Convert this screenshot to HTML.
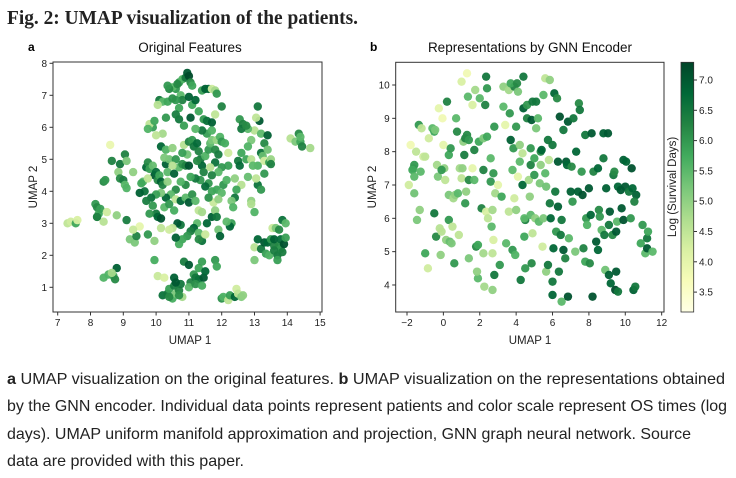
<!DOCTYPE html>
<html><head><meta charset="utf-8"><style>
html,body{margin:0;padding:0;background:#fff;}
svg{display:block;}
.tk{font-family:"Liberation Sans",sans-serif;font-size:10px;fill:#222;}
.lab{font-family:"Liberation Sans",sans-serif;font-size:11.5px;fill:#222;}
.ttl{font-family:"Liberation Sans",sans-serif;font-size:13.5px;fill:#111;}
.cap{font-family:"Liberation Sans",sans-serif;font-size:16px;fill:#222;}
</style></head><body>
<svg id="fig" width="736" height="478" viewBox="0 0 736 478" xmlns="http://www.w3.org/2000/svg">
<defs><linearGradient id="ylgn" x1="0" y1="1" x2="0" y2="0">
<stop offset="0" stop-color="#ffffe5"/><stop offset="0.125" stop-color="#f7fcb9"/><stop offset="0.25" stop-color="#d9f0a3"/><stop offset="0.375" stop-color="#addd8e"/><stop offset="0.5" stop-color="#78c679"/><stop offset="0.625" stop-color="#41ab5d"/><stop offset="0.75" stop-color="#238443"/><stop offset="0.875" stop-color="#006837"/><stop offset="1" stop-color="#004529"/></linearGradient></defs>
<text x="7" y="24" textLength="351" lengthAdjust="spacingAndGlyphs" style="font-family:'Liberation Serif',serif;font-weight:bold;font-size:20px;fill:#222">Fig. 2: UMAP visualization of the patients.</text>
<text x="28" y="51" style="font-family:'Liberation Sans',sans-serif;font-weight:bold;font-size:12px">a</text>
<text x="370" y="51" style="font-family:'Liberation Sans',sans-serif;font-weight:bold;font-size:12px">b</text>
<text class="ttl" x="190" y="52" text-anchor="middle">Original Features</text>
<text class="ttl" x="530" y="52" text-anchor="middle">Representations by GNN Encoder</text>
<g id="pa"></g>
<g id="pb"></g>
<rect x="53" y="62" width="269" height="250" fill="none" stroke="#333" stroke-width="1"/>
<rect x="395.7" y="62.3" width="268.3" height="249.7" fill="none" stroke="#333" stroke-width="1"/>
<text class="lab" x="190" y="344" text-anchor="middle">UMAP 1</text>
<text class="lab" x="37" y="187" text-anchor="middle" transform="rotate(-90 37 187)">UMAP 2</text>
<text class="lab" x="530" y="344" text-anchor="middle">UMAP 1</text>
<text class="lab" x="376" y="187" text-anchor="middle" transform="rotate(-90 376 187)">UMAP 2</text>
<rect x="681" y="62.3" width="12.7" height="249.7" fill="url(#ylgn)" stroke="#333" stroke-width="0.8"/>
<text class="lab" x="676" y="187" text-anchor="middle" transform="rotate(-90 676 187)">Log (Survival Days)</text>
<g id="cb"></g>
<text class="cap" x="7" y="384" textLength="718" lengthAdjust="spacingAndGlyphs"><tspan font-weight="bold">a</tspan> UMAP visualization on the original features. <tspan font-weight="bold">b</tspan> UMAP visualization on the representations obtained</text>
<text class="cap" x="7" y="411" textLength="720" lengthAdjust="spacingAndGlyphs">by the GNN encoder. Individual data points represent patients and color scale represent OS times (log</text>
<text class="cap" x="7" y="439" textLength="684" lengthAdjust="spacingAndGlyphs">days). UMAP uniform manifold approximation and projection, GNN graph neural network. Source</text>
<text class="cap" x="7" y="466" textLength="237" lengthAdjust="spacingAndGlyphs">data are provided with this paper.</text>
</svg>
<script>
const aX=[7.3,7.4,7.55,7.6,8.15,8.2,8.2,8.25,8.3,8.4,8.5,8.2,8.8,8.4,8.45,8.6,8.65,8.9,8.85,8.9,9.0,9.05,9.1,9.05,9.1,9.3,9.1,9.2,9.35,9.4,9.5,9.3,8.4,8.55,8.7,8.75,8.8,8.65,9.95,10.05,10.25,10.2,10.35,10.4,10.5,10.55,10.6,10.55,10.7,10.75,10.8,10.6,10.4,10.7,10.85,11.0,11.05,11.15,11.2,11.3,11.3,11.4,11.45,11.5,11.0,11.2,11.4,11.8,11.85,12.0,12.05,12.2,12.25,12.4,12.45,12.5,12.6,12.65,13.0,13.0,13.1,13.2,13.3,13.35,13.4,13.45,13.5,13.55,13.6,13.6,13.65,13.7,13.7,13.75,13.8,13.8,13.85,13.9,13.95,13.95,13.75,13.6,13.85,14.1,14.25,14.35,14.4,14.45,14.4,14.7,13.0,13.1,13.15,13.05,13.2,13.3,13.2,13.25,13.3,13.4,13.45,13.4,13.5,13.5,13.1,13.1,13.2,13.05,13.3,13.0,12.9,12.9,12.55,12.65,12.8,12.6,12.75,12.9,12.8,12.6,12.5,12.55,12.75,12.9,12.95,12.8,12.6,12.4,12.45,12.4,12.3,12.3,12.25,12.15,12.35,10.7,10.8,10.9,10.95,11.0,11.05,11.1,10.6,10.5,10.4,10.35,10.65,10.75,10.8,11.0,11.1,11.2,10.1,10.2,10.05,10.35,10.6,10.5,11.4,11.5,11.6,11.7,11.8,11.85,11.8,12.0,11.3,11.45,11.55,11.7,11.05,10.7,10.7,10.85,10.3,10.2,10.0,9.9,9.8,9.75,9.95,10.6,9.7,9.75,9.8,9.9,9.95,10.0,10.05,10.1,10.15,10.2,10.3,10.35,10.4,10.25,10.15,10.3,10.5,10.6,10.55,10.7,10.8,10.9,10.95,10.85,11.0,11.1,11.15,11.25,11.3,11.35,11.4,11.45,11.5,11.6,11.65,11.7,11.8,11.85,11.95,12.0,12.1,12.2,12.2,12.0,11.9,11.8,11.7,11.6,11.5,11.35,11.2,11.0,11.05,10.9,10.75,10.6,10.45,10.3,10.15,10.0,9.85,9.7,9.65,9.5,9.6,9.75,9.9,10.0,10.05,10.15,10.25,10.4,10.55,10.6,10.75,10.9,11.0,11.1,11.2,11.3,11.4,11.25,11.15,11.05,10.95,10.8,10.7,10.6,10.75,10.65,10.5,10.4,11.3,11.4,11.3,11.5,11.55,11.7,11.75,11.8,11.85,11.9,11.95,11.7,11.6,11.85,12.0,11.9,12.05,12.15,9.55,9.8,9.75,9.95,10.15,10.35,10.5,11.25,11.55,11.4,11.2,11.7,11.9,10.8,11.65];
const aY=[3.0,3.05,3.0,3.1,3.6,3.5,3.2,3.3,3.45,3.05,3.35,3.2,3.25,4.3,4.35,5.45,4.95,4.85,4.6,4.4,4.35,5.15,4.95,4.2,4.1,4.6,3.1,2.5,2.4,2.6,2.9,2.8,1.3,1.4,1.35,1.25,1.6,1.45,1.85,1.35,1.3,0.75,0.8,0.95,0.65,1.05,0.8,1.3,0.9,1.1,0.7,1.15,0.7,0.75,1.8,1.7,1.15,1.4,1.3,1.25,1.6,1.8,1.3,1.5,1.0,1.1,1.05,1.85,1.65,0.65,0.7,0.6,0.75,0.7,0.95,0.8,0.7,0.75,2.25,1.85,2.5,2.2,2.4,2.05,2.4,2.0,2.5,2.85,2.3,2.5,2.85,2.0,1.85,2.3,2.5,2.2,3.1,2.35,2.55,3.0,2.8,2.15,2.1,5.65,5.55,5.8,5.55,5.4,5.7,5.35,5.9,6.65,6.2,6.3,5.8,5.5,5.2,5.1,4.95,5.75,4.9,5.3,5.0,4.85,4.8,4.2,4.05,4.4,4.55,3.35,3.7,3.6,6.25,6.1,5.95,5.95,6.05,5.6,5.4,5.2,4.95,4.8,5.0,5.0,4.8,4.45,4.2,4.4,4.05,3.8,3.7,3.0,2.9,3.05,3.5,7.4,7.5,7.55,7.7,7.6,7.4,7.3,7.2,7.25,7.2,7.3,7.35,7.0,6.85,6.95,6.7,6.85,6.85,6.8,6.7,6.8,6.85,6.9,7.15,7.2,7.2,7.2,7.15,7.05,6.4,6.65,6.5,6.25,6.2,6.15,6.3,6.6,6.25,6.05,6.3,5.8,5.75,6.0,6.1,5.95,6.2,6.4,4.75,4.9,4.7,4.8,4.5,4.6,4.35,4.5,4.3,4.2,4.85,4.6,5.0,5.05,5.4,5.3,5.35,5.0,4.55,4.75,4.85,4.8,5.15,5.45,5.55,5.6,5.4,5.5,5.25,5.0,4.8,4.6,5.1,5.3,5.5,5.6,5.3,5.6,5.7,5.55,5.5,5.2,4.8,4.75,4.6,4.9,4.5,4.25,4.15,4.35,4.4,4.8,4.45,4.2,4.3,4.05,3.9,3.8,3.95,3.9,3.8,3.7,4.0,3.95,4.3,4.4,3.55,3.3,3.2,3.15,3.5,3.6,3.4,3.75,3.7,3.8,3.65,3.9,3.7,3.4,3.35,3.0,2.85,2.75,2.6,2.5,2.35,2.55,2.95,3.0,2.85,2.8,2.7,2.45,2.5,2.65,3.0,3.2,3.65,3.4,3.2,2.8,2.6,4.0,3.8,4.05,3.95,3.75,4.2,4.35,4.25,3.3,2.65,2.45,2.85,4.3,4.8,4.95,5.8,5.9,5.95,5.9,5.15,5.2,4.75];
const aV=[4.5,4.3,5.8,4.2,6.0,6.2,6.5,5.8,5.9,4.6,4.3,6.3,5.0,6.2,6.0,3.9,6.3,6.5,5.0,6.2,6.4,6.3,5.2,5.5,5.6,5.0,6.4,5.2,5.2,6.3,4.0,4.4,5.6,5.6,5.8,6.2,6.9,4.8,5.7,4.4,4.2,6.6,6.5,5.9,5.7,6.4,5.2,6.9,6.3,6.5,4.8,7.0,6.2,6.1,6.4,7.0,6.3,6.0,6.5,6.6,5.8,5.9,7.0,6.8,5.5,6.1,5.7,6.0,5.8,6.1,5.6,4.5,5.9,6.8,4.3,4.5,5.1,5.0,4.6,5.2,6.8,6.5,7.0,5.9,6.8,5.6,6.0,4.4,6.3,6.9,5.2,6.5,5.9,6.2,6.7,6.0,6.6,7.1,5.9,5.5,6.2,6.4,6.4,4.6,5.2,6.2,5.8,6.3,5.5,4.8,4.6,6.5,7.0,4.5,5.5,6.2,6.6,5.4,4.3,6.9,5.9,5.3,4.9,6.3,5.6,6.6,6.0,4.5,6.0,5.6,5.0,4.7,6.0,6.3,5.5,6.5,6.2,5.2,5.6,5.8,6.5,6.7,5.8,4.6,5.5,5.4,4.6,5.0,5.8,6.5,5.2,5.9,6.8,5.5,5.6,6.0,5.6,6.5,7.0,7.2,6.2,5.8,6.0,5.5,6.2,6.0,6.2,5.5,6.3,6.9,5.8,6.8,6.5,5.5,4.6,5.8,6.0,6.1,5.9,6.9,6.8,4.3,4.8,6.0,4.5,6.3,5.8,6.0,6.6,6.9,7.0,5.8,6.5,5.9,6.0,4.8,4.5,5.9,4.5,5.6,5.8,6.4,6.8,6.2,5.9,5.4,7.0,6.7,6.2,5.8,6.9,6.3,6.9,5.5,5.3,5.2,6.8,5.6,5.0,6.0,6.9,5.5,6.1,6.3,5.3,4.6,6.3,6.0,6.5,6.7,6.3,6.5,6.8,6.3,5.6,6.0,5.5,5.2,6.2,4.9,5.6,6.0,5.7,4.3,5.9,6.0,5.5,6.6,6.3,6.0,6.7,6.0,6.5,7.1,5.8,6.2,5.6,6.2,5.5,6.8,5.2,5.9,6.6,6.4,6.6,6.9,5.5,4.5,6.0,6.5,6.8,7.1,5.5,6.0,5.7,4.5,6.8,5.5,7.0,6.1,5.5,4.5,4.8,5.5,6.8,6.4,6.0,5.8,5.7,6.9,6.5,7.0,4.5,4.3,5.5,6.6,6.2,4.4,6.8,6.9,4.4,5.0,6.5,5.3,6.9,5.8,6.1,5.8,5.5,5.0,6.0,5.6,5.8,6.0,6.0,5.0,4.5,5.0,4.6,6.2,5.9,6.5,5.5,5.6,6.4,5.9,4.6];
const bX=[-1.9,-1.8,-1.65,-1.6,-1.7,-1.6,-1.6,-1.5,-1.35,-1.2,-1.1,-1.0,-1.45,-1.3,-1.25,-1.0,-0.85,-0.8,-0.6,-0.5,-0.45,-0.5,-0.4,-0.35,-0.3,-0.25,-0.2,-0.1,-0.15,-0.05,0.0,0.05,0.1,-0.1,0.15,0.2,0.3,0.3,0.3,0.4,0.35,0.45,0.5,0.55,0.6,0.65,0.7,0.75,0.8,0.85,0.9,1.0,1.05,1.1,1.2,1.15,1.2,1.25,1.3,1.4,1.4,1.4,1.3,1.35,1.0,1.6,1.6,1.7,1.7,1.75,1.8,1.9,1.9,1.85,1.95,2.0,2.1,2.2,2.2,2.2,2.25,2.3,2.35,2.4,2.35,2.4,2.45,2.6,2.6,2.65,2.7,2.75,2.8,2.75,2.7,2.7,2.8,2.85,3.0,3.1,3.2,3.3,3.3,3.4,3.45,3.6,3.6,3.65,3.7,3.8,3.8,3.85,3.9,3.9,3.95,3.7,4.0,4.0,4.05,4.1,4.1,4.2,4.2,4.25,4.35,4.35,4.4,4.4,4.45,4.5,4.5,4.45,4.6,4.6,4.7,4.75,4.8,4.8,4.85,4.8,4.85,4.9,4.9,5.0,5.0,5.05,5.1,5.1,5.2,5.25,5.3,5.35,5.35,5.4,5.45,5.5,5.5,5.6,5.6,5.65,5.65,5.75,5.75,5.8,5.85,5.85,5.9,6.0,6.0,6.05,6.1,6.0,6.15,6.2,6.25,6.3,6.3,6.4,6.35,6.45,6.5,6.5,6.6,6.6,6.7,6.75,6.8,6.85,6.85,6.9,7.0,7.05,7.1,7.15,7.25,7.3,7.4,7.45,7.5,7.6,7.65,7.7,7.8,7.8,7.85,7.9,8.0,8.05,8.1,8.15,8.2,8.25,8.4,8.5,8.5,8.55,8.6,8.7,8.8,8.8,8.85,8.9,8.95,9.05,9.1,9.1,9.15,9.2,9.3,9.35,9.4,9.45,9.5,9.5,9.55,9.6,9.6,9.75,9.8,9.9,9.9,10.05,10.0,10.2,10.35,10.4,10.45,10.55,10.6,10.85,10.95,11.1,11.2,11.25,11.2,11.5,10.5,10.3];
const bY=[7.0,8.2,7.5,7.6,7.45,6.75,7.25,8.0,8.8,8.7,7.85,7.85,5.95,6.25,7.4,4.95,4.5,8.4,8.7,8.6,8.65,6.15,5.45,7.6,7.25,9.3,5.7,5.6,4.9,9.0,8.2,7.5,7.15,7.45,5.35,9.5,5.95,7.9,6.7,8.1,5.3,5.25,5.75,6.6,4.65,6.7,9.0,8.6,6.75,5.5,7.5,7.2,7.5,8.3,8.4,7.9,6.45,6.8,8.5,8.35,4.8,7.15,10.35,9.65,10.1,9.4,7.5,8.05,7.15,9.85,5.15,5.2,4.2,4.4,8.3,9.6,6.3,4.95,7.45,8.4,3.95,9.4,10.25,8.45,6.2,9.9,6.0,7.1,7.8,5.75,6.25,7.35,8.75,5.35,4.95,3.85,4.3,6.75,7.0,4.6,6.65,9.35,9.95,8.8,5.25,6.2,9.85,9.15,8.35,7.45,5.05,8.1,9.95,6.6,4.9,10.05,8.75,6.25,10.05,7.25,9.8,8.2,7.7,4.15,7.95,7.0,10.25,9.3,5.45,5.95,4.5,6.0,9.0,9.4,7.15,6.65,6.1,7.6,8.95,8.1,4.65,9.5,5.55,7.8,7.3,6.0,9.5,8.7,9.0,5.9,7.05,8.0,7.6,8.05,5.15,9.7,6.0,10.2,7.35,6.95,4.4,8.35,4.6,7.75,10.15,6.45,6.0,8.2,4.1,5.1,9.75,3.7,6.8,5.6,9.6,7.7,6.35,9.05,4.4,5.5,5.95,3.5,8.65,5.05,4.8,7.7,7.6,8.9,3.65,5.4,6.8,7.55,6.5,9.0,5.0,8.0,6.8,9.45,9.25,7.4,6.7,5.1,4.7,8.5,6.0,5.8,6.9,4.65,6.1,8.55,3.65,7.4,5.3,7.5,5.05,6.25,6.05,5.65,8.55,7.8,5.5,4.45,6.9,8.55,5.8,4.3,6.2,4.05,5.5,7.3,7.4,3.85,5.6,4.4,5.9,3.8,6.95,6.85,6.3,5.95,7.75,7.7,6.95,6.8,7.5,6.9,3.85,3.95,6.7,5.25,5.8,4.95,5.4,5.6,5.1,5.0,6.5,6.0];
const bV=[4.3,3.8,5.6,6.0,5.8,5.3,5.5,4.5,6.0,4.5,4.3,4.5,5.2,5.0,5.5,5.8,4.3,4.3,5.5,5.8,5.2,6.5,6.2,4.8,5.2,4.0,4.6,4.6,5.0,3.8,4.0,5.0,4.5,6.0,5.0,6.3,6.0,5.8,5.2,6.0,5.4,5.2,4.5,4.8,6.0,5.0,5.5,6.2,5.5,4.5,4.8,4.5,5.0,5.0,6.3,6.4,6.0,5.0,6.2,6.0,5.2,6.2,3.8,5.5,4.2,4.2,4.0,6.3,5.5,4.8,6.2,5.8,5.5,5.0,5.8,5.5,6.3,4.8,6.3,5.2,4.8,6.3,6.5,5.8,4.2,6.0,4.5,6.0,5.5,5.5,4.8,6.0,6.0,4.2,4.5,5.0,6.5,4.8,4.0,6.0,5.8,5.5,5.0,4.0,5.5,4.5,4.8,6.0,6.9,5.5,6.0,6.0,6.3,4.3,5.6,5.8,6.0,5.0,6.2,4.0,5.2,5.0,5.5,6.5,4.5,6.8,6.5,6.9,5.8,6.3,6.0,5.5,6.3,6.0,4.8,5.0,5.5,6.3,7.0,6.0,6.2,6.5,4.5,5.8,6.0,5.0,6.5,5.2,5.5,5.5,5.2,6.2,5.0,6.8,4.3,5.5,5.2,4.5,5.5,5.3,5.0,6.5,6.5,4.5,5.0,6.5,6.8,6.5,6.5,6.8,6.8,6.8,6.5,6.0,6.2,7.0,6.9,7.1,6.5,6.5,6.5,5.5,6.5,7.0,6.3,7.0,6.8,7.0,7.1,5.5,6.9,6.2,6.0,6.5,5.2,6.8,6.9,6.2,6.5,6.0,7.1,6.3,5.8,6.5,6.0,5.6,7.0,6.2,6.8,7.0,7.1,6.3,7.0,6.8,6.8,6.2,6.0,5.5,6.9,6.5,6.5,5.3,6.9,7.0,6.5,6.9,7.0,6.8,6.2,6.5,6.2,7.2,7.0,7.0,5.5,6.5,6.8,7.0,7.0,7.1,6.9,6.8,7.0,6.5,7.1,6.8,6.9,6.5,6.9,5.8,6.0,5.5,6.5,5.8,7.0,5.5,6.3,6.0];
const aXTicks=[7,8,9,10,11,12,13,14,15];
const aYTicks=[1,2,3,4,5,6,7,8];
const bXTicks=[-2,0,2,4,6,8,10,12];
const bYTicks=[4,5,6,7,8,9,10];
const cbTicks=[3.5,4.0,4.5,5.0,5.5,6.0,6.5,7.0];
const VMIN=3.17, VMAX=7.29;
const NS='http://www.w3.org/2000/svg';
const stops=['#ffffe5','#f7fcb9','#d9f0a3','#addd8e','#78c679','#41ab5d','#238443','#006837','#004529'];
function hex(h){return [1,3,5].map(i=>parseInt(h.substr(i,2),16));}
function cmap(v){let t=Math.max(0,Math.min(1,(v-VMIN)/(VMAX-VMIN)))*8;let i=Math.min(7,Math.floor(t)),f=t-i;const a=hex(stops[i]),b=hex(stops[i+1]);return 'rgb('+a.map((c,k)=>Math.round(c+(b[k]-c)*f)).join(',')+')';}
const ax={sx:v=>57.7+(v-7)*32.8,sy:v=>63.3+(8-v)*32};
const bx={sx:v=>407+(v+2)*18.19,sy:v=>85+(10-v)*33.33};
const cbY=v=>80+(7-v)*60.6;
function el(t,at,p){const e=document.createElementNS(NS,t);for(const k in at)e.setAttribute(k,at[k]);p.appendChild(e);return e;}
function draw(g,s,X,Y,V,xt,yt,x0,x1,y0,y1){
  for(let i=0;i<X.length;i++){
    const c=el('circle',{cx:s.sx(X[i]),cy:s.sy(Y[i]),r:4.2,fill:cmap(V[i]),'fill-opacity':0.95},g);
    
    
  }
  xt.forEach(t=>{const x=s.sx(t);
    const l=el('line',{x1:x,x2:x,y1:y1,y2:y1+3.5,stroke:'#333'},g);
    
    
    const tx=el('text',{x:x,y:y1+14,'text-anchor':'middle',class:'tk'},g);tx.textContent=t<0?'\u2212'+(-t):t;
    
    });
  yt.forEach(t=>{const y=s.sy(t);
    const l=el('line',{x1:x0-3.5,x2:x0,y1:y,y2:y,stroke:'#333'},g);
    
    
    const tx=el('text',{x:x0-6,y:y+3.5,'text-anchor':'end',class:'tk'},g);tx.textContent=t;
    
    });
}
draw(document.getElementById('pa'),ax,aX,aY,aV,aXTicks,aYTicks,53,322,62,312);
draw(document.getElementById('pb'),bx,bX,bY,bV,bXTicks,bYTicks,395.7,664,62.3,312);
const cb=document.getElementById('cb');
cbTicks.forEach(t=>{const y=cbY(t);
  const l=el('line',{x1:693.7,x2:697,y1:y,y2:y,stroke:'#333'},cb);
  
  
  const tx=el('text',{x:699,y:y+3.5,class:'tk'},cb);tx.textContent=t.toFixed(1);
  
  });
</script>
</body></html>
